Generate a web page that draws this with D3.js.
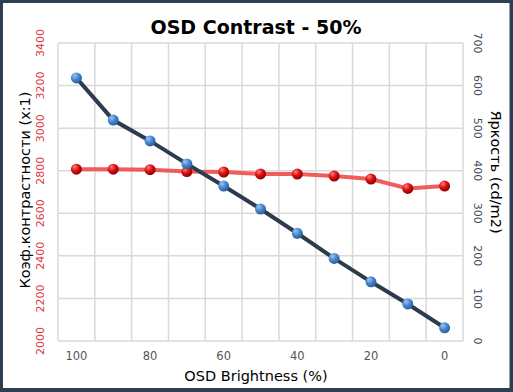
<!DOCTYPE html>
<html><head><meta charset="utf-8">
<script src="https://cdn.jsdelivr.net/npm/d3@7"></script>
<style>body{margin:0;background:#fff}svg{display:block}</style>
</head><body>
<svg id="c" width="513" height="392"></svg>
<script>
const categories = [100, 90, 80, 70, 60, 50, 40, 30, 20, 10, 0];
const xTickLabels = [100, 80, 60, 40, 20, 0];
const contrast = [2807, 2807, 2805, 2796, 2794, 2785, 2784, 2775, 2761, 2717, 2728];
const brightness = [618, 519, 470, 416, 364, 310, 253, 194, 139, 87, 31];
const leftTicks = [2000, 2200, 2400, 2600, 2800, 3000, 3200, 3400];
const rightTicks = [0, 100, 200, 300, 400, 500, 600, 700];

const svg = d3.select('#c');
const W = 513, H = 392;
const m = {l: 58, r: 463, t: 43, b: 341};

// frame
svg.append('rect').attr('x', 0).attr('y', 0).attr('width', W).attr('height', H).attr('fill', '#2f3e52');
svg.append('rect').attr('x', 3).attr('y', 3).attr('width', W - 6.5).attr('height', H - 7).attr('fill', '#fff');

const defs = svg.append('defs');
function grad(id, light, mid, dark) {
  const g = defs.append('radialGradient').attr('id', id).attr('cx', '35%').attr('cy', '30%').attr('r', '70%');
  g.append('stop').attr('offset', '0%').attr('stop-color', light);
  g.append('stop').attr('offset', '50%').attr('stop-color', mid);
  g.append('stop').attr('offset', '100%').attr('stop-color', dark);
}
grad('gBlue', '#9cc4f0', '#4a88d0', '#2a5e9e');
grad('gRed', '#ff8080', '#dd1010', '#900000');

const x = d3.scaleBand().domain(categories).range([m.l, m.r]);
const yL = d3.scaleLinear().domain([2000, 3400]).range([m.b, m.t]);
const yR = d3.scaleLinear().domain([0, 700]).range([m.b, m.t]);

const grid = svg.append('g').attr('stroke', '#d9d9d9').attr('stroke-width', 1.5);
const bounds = categories.map(c => x(c)).concat([m.r]);
grid.selectAll('line.v').data(bounds).join('line')
  .attr('x1', d => d).attr('x2', d => d).attr('y1', m.t).attr('y2', m.b);
grid.selectAll('line.h').data(leftTicks).join('line')
  .attr('x1', m.l).attr('x2', m.r).attr('y1', d => yL(d)).attr('y2', d => yL(d));

// left axis
const axL = svg.append('g').attr('transform', `translate(${m.l},0)`)
  .call(d3.axisLeft(yL).tickValues(leftTicks).tickSize(0).tickFormat(d3.format('d')));
axL.select('.domain').remove();
axL.selectAll('text').attr('transform', null)
  .each(function(d){
    d3.select(this).attr('x', null).attr('dy', null)
      .attr('transform', `translate(${-17.5},${yL(d)}) rotate(-90)`)
      .attr('y', 0).attr('text-anchor', 'middle').attr('dominant-baseline', 'central');
  })
  .attr('fill', '#e0393e').attr('font-size', 11).attr('font-family', 'DejaVu Sans, sans-serif');
axL.selectAll('.tick').attr('transform', null);

// right axis
const axR = svg.append('g').attr('transform', `translate(${m.r},0)`)
  .call(d3.axisRight(yR).tickValues(rightTicks).tickSize(0));
axR.select('.domain').remove();
axR.selectAll('.tick').attr('transform', null);
axR.selectAll('text').each(function(d){
    d3.select(this).attr('x', null).attr('dy', null).attr('y', 0)
      .attr('transform', `translate(${14},${yR(d)}) rotate(90)`)
      .attr('text-anchor', 'middle').attr('dominant-baseline', 'central');
  })
  .attr('fill', '#3d4a5c').attr('font-size', 11).attr('font-family', 'DejaVu Sans, sans-serif');

// bottom axis
const axB = svg.append('g').attr('transform', `translate(0,${m.b})`)
  .call(d3.axisBottom(x).tickValues(xTickLabels).tickSize(0).tickPadding(11));
axB.select('.domain').remove();
axB.selectAll('text').attr('fill', '#555').attr('font-size', 11.5).attr('font-family', 'DejaVu Sans, sans-serif');

// titles
svg.append('text').attr('x', 256).attr('y', 34).attr('text-anchor', 'middle')
  .attr('font-family', 'DejaVu Sans, sans-serif').attr('font-weight', 'bold').attr('font-size', 19)
  .attr('fill', '#000').text('OSD Contrast - 50%');
svg.append('text').attr('x', 256).attr('y', 381).attr('text-anchor', 'middle')
  .attr('font-family', 'DejaVu Sans, sans-serif').attr('font-size', 14.5)
  .attr('fill', '#000').text('OSD Brightness (%)');
svg.append('text').attr('transform', 'translate(25,190) rotate(-90)').attr('text-anchor', 'middle')
  .attr('dominant-baseline', 'central')
  .attr('font-family', 'DejaVu Sans, sans-serif').attr('font-size', 14.5)
  .attr('fill', '#000').text('Коэф.контрастности (x:1)');
svg.append('text').attr('transform', 'translate(496,172) rotate(90)').attr('text-anchor', 'middle')
  .attr('dominant-baseline', 'central')
  .attr('font-family', 'DejaVu Sans, sans-serif').attr('font-size', 14.5)
  .attr('fill', '#000').text('Яркость (cd/m2)');

const cx = d => x(d) + x.bandwidth() / 2;

// red series (contrast, left axis)
const lineL = d3.line().x((d, i) => cx(categories[i])).y(d => yL(d));
svg.append('path').datum(contrast).attr('d', lineL).attr('fill', 'none')
  .attr('stroke', '#ef4a4a').attr('stroke-width', 4).attr('stroke-opacity', 0.9);
svg.append('g').selectAll('circle').data(contrast).join('circle')
  .attr('cx', (d, i) => cx(categories[i])).attr('cy', d => yL(d)).attr('r', 5.5)
  .attr('fill', 'url(#gRed)');

// blue series (brightness, right axis)
const lineR = d3.line().x((d, i) => cx(categories[i])).y(d => yR(d));
svg.append('path').datum(brightness).attr('d', lineR).attr('fill', 'none')
  .attr('stroke', '#2c3c4e').attr('stroke-width', 4);
svg.append('g').selectAll('circle').data(brightness).join('circle')
  .attr('cx', (d, i) => cx(categories[i])).attr('cy', d => yR(d)).attr('r', 5.5)
  .attr('fill', 'url(#gBlue)');
</script>
</body></html>
